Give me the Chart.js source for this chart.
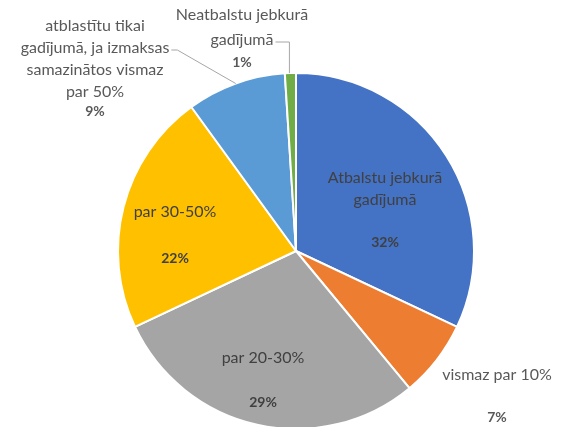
<!DOCTYPE html>
<html>
<head>
<meta charset="utf-8">
<script src="https://cdn.jsdelivr.net/npm/chart.js@4"></script>
<style>
html,body{margin:0;padding:0;background:#fff;}
#wrap{width:565px;height:427px;position:relative;}
</style>
</head>
<body>
<div id="wrap"><canvas id="c" width="565" height="427"></canvas></div>
<script>
// ---- data ----
const categories = [
  "Atbalstu jebkurā gadījumā",
  "vismaz par 10%",
  "par 20-30%",
  "par 30-50%",
  "atblastītu tikai gadījumā, ja izmaksas samazinātos vismaz par 50%",
  "Neatbalstu jebkurā gadījumā"
];
const values = [32, 7, 29, 22, 9, 1];
const colors = ["#4472C4", "#ED7D31", "#A5A5A5", "#FFC000", "#5B9BD5", "#70AD47"];

// label text lines (as displayed) per slice
const labelLines = [
  ["Atbalstu jebkurā", "gadījumā"],
  ["vismaz par 10%"],
  ["par 20-30%"],
  ["par 30-50%"],
  ["atblastītu tikai", "gadījumā, ja izmaksas", "samazinātos vismaz", "par 50%"],
  ["Neatbalstu jebkurā", "gadījumā"]
];

// label layout: offsets from the pie centre (px) for first line, line step, and percentage line
const labelLayout = [
  {dx: 89,   y0: -73,  step: 22, py: -9,   color: "#404040"},
  {dx: 201,  y0: 124,  step: 22, py: 166,  color: "#595959"},
  {dx: -33,  y0: 107,  step: 22, py: 151,  color: "#404040"},
  {dx: -121, y0: -39,  step: 22, py: 7,    color: "#404040"},
  {dx: -201, y0: -225, step: 22, py: -140, color: "#595959", leader: {line: 1}},
  {dx: -54,  y0: -236, step: 25, py: -189, color: "#595959", leader: {line: 1, vertical: true}}
];

const FONT = "Lato, 'Open Sans', sans-serif";

const labelPlugin = {
  id: "pieLabels",
  afterDatasetsDraw(chart) {
    const ctx = chart.ctx;
    const meta = chart.getDatasetMeta(0);
    const total = values.reduce((a, b) => a + b, 0);
    meta.data.forEach((arc, i) => {
      const L = labelLayout[i];
      const cx = arc.x, cy = arc.y;
      const x = cx + L.dx;
      ctx.save();
      ctx.textAlign = "center";
      ctx.textBaseline = "middle";
      ctx.fillStyle = L.color;
      ctx.font = "16px " + FONT;
      const lines = labelLines[i];
      lines.forEach((t, k) => ctx.fillText(t, x, cy + L.y0 + k * L.step));
      ctx.font = "bold 14px " + FONT;
      const pct = Math.round(values[i] / total * 100) + "%";
      ctx.fillText(pct, x, cy + L.py);
      if (L.leader) {
        ctx.font = "16px " + FONT;
        const ln = lines[L.leader.line];
        const ly = cy + L.y0 + L.leader.line * L.step;
        const w = ctx.measureText(ln).width;
        const sx = x + w / 2 + 2;
        const mid = (arc.startAngle + arc.endAngle) / 2;
        const ex = cx + Math.cos(mid) * arc.outerRadius;
        const ey = cy + Math.sin(mid) * arc.outerRadius;
        ctx.strokeStyle = "#A6A6A6";
        ctx.lineWidth = 1;
        ctx.beginPath();
        ctx.moveTo(sx, ly + 2);
        if (L.leader.vertical) {
          ctx.lineTo(ex - 1, ly + 2);
          ctx.lineTo(ex - 1, ey);
        } else {
          ctx.lineTo(sx + 6, ly + 2);
          ctx.lineTo(ex, ey);
        }
        ctx.stroke();
      }
      ctx.restore();
    });
  }
};

new Chart(document.getElementById("c"), {
  type: "pie",
  data: {
    labels: categories,
    datasets: [{
      data: values,
      backgroundColor: colors,
      borderColor: "#ffffff",
      borderWidth: 2,
      radius: 178
    }]
  },
  options: {
    responsive: false,
    animation: false,
    rotation: 0,
    layout: {padding: {left: 27, right: 0, top: 75, bottom: 0}},
    plugins: {legend: {display: false}, tooltip: {enabled: false}}
  },
  plugins: [labelPlugin]
});
</script>
</body>
</html>
